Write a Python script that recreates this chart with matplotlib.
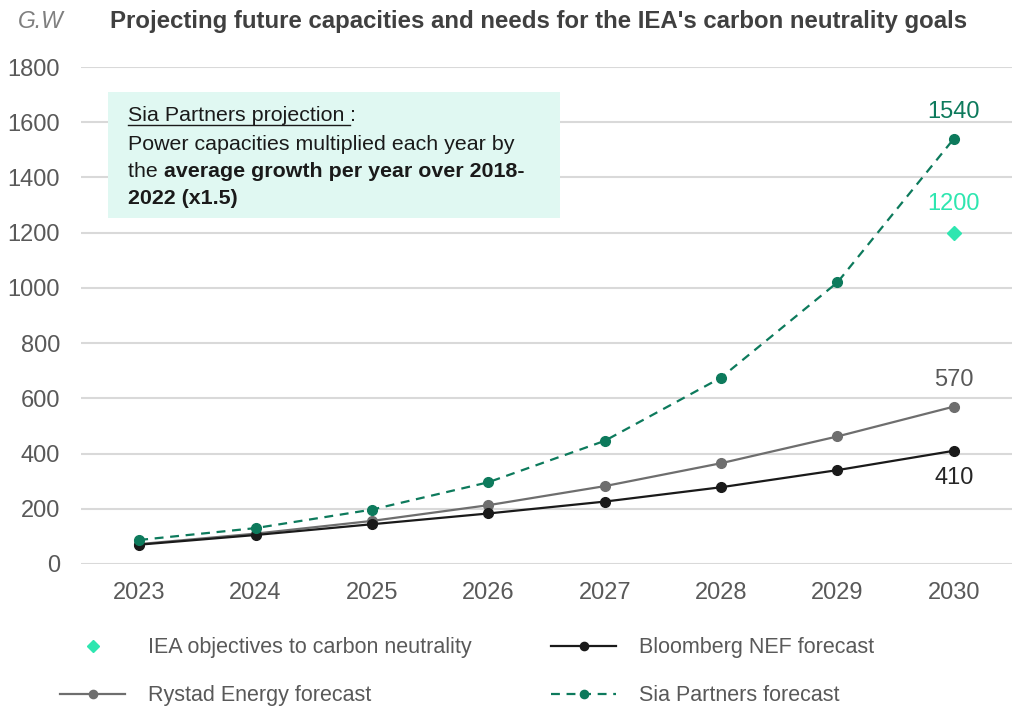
import matplotlib
matplotlib.use("Agg")
import matplotlib.pyplot as plt
from matplotlib.lines import Line2D
from matplotlib.patches import Rectangle

plt.rcParams['font.family'] = ['Liberation Sans', 'DejaVu Sans']

years = [2023, 2024, 2025, 2026, 2027, 2028, 2029, 2030]
sia = [87, 130, 197, 296, 446, 675, 1020, 1540]
rystad = [72, 110, 156, 213, 282, 365, 462, 570]
bloomberg = [70, 105, 144, 183, 226, 278, 340, 410]
iea_year = [2030]
iea = [1200]
yticks = [0, 200, 400, 600, 800, 1000, 1200, 1400, 1600, 1800]

c_sia = '#0D7A5C'
c_iea = '#2EE6B0'
c_ry = '#6E6E6E'
c_bl = '#1A1A1A'
c_txt = '#595959'

fig = plt.figure(figsize=(10.22, 7.08), dpi=100)
ax = fig.add_axes([81/1022, 1-564/708, 931/1022, (564-67)/708])
ax.set_xlim(2022.5, 2030.5)
ax.set_ylim(0, 1800)
ax.set_yticks(yticks)
ax.set_xticks(years)
ax.tick_params(length=0, labelsize=17, labelcolor=c_txt)
ax.tick_params(axis='x', pad=13)
ax.tick_params(axis='y', pad=15)
for s in ax.spines.values():
    s.set_visible(False)
ax.yaxis.grid(True, color='#D9D9D9', linewidth=1.5)
ax.set_axisbelow(True)

l_ry, = ax.plot(years, rystad, color=c_ry, lw=1.6, marker='o', ms=7, label='Rystad Energy forecast')
l_bl, = ax.plot(years, bloomberg, color=c_bl, lw=1.6, marker='o', ms=7, label='Bloomberg NEF forecast')
l_sia, = ax.plot(years, sia, color=c_sia, lw=1.6, ls=(0, (4, 3)), marker='o', ms=7, label='Sia Partners forecast')
l_iea, = ax.plot(iea_year, iea, ls='none', marker='D', ms=7, color=c_iea, label='IEA objectives to carbon neutrality')

ax.annotate(f"{sia[-1]}", (years[-1], sia[-1]), xytext=(0, 15), textcoords='offset points',
            ha='center', va='baseline', fontsize=17, color=c_sia)
ax.annotate(f"{iea[-1]}", (iea_year[-1], iea[-1]), xytext=(0, 16.5), textcoords='offset points',
            ha='center', va='baseline', fontsize=17, color=c_iea)
ax.annotate(f"{rystad[-1]}", (years[-1], rystad[-1]), xytext=(0, 14.5), textcoords='offset points',
            ha='center', va='baseline', fontsize=17, color=c_txt)
ax.annotate(f"{bloomberg[-1]}", (years[-1], bloomberg[-1]), xytext=(0, -24), textcoords='offset points',
            ha='center', va='baseline', fontsize=17, color='#262626')

# Title and unit
fig.text(18/1022, 1-28/708, "G.W", fontsize=16.5, style='italic', color='#7F7F7F', va='baseline')
fig.text(110/1022, 1-28/708, "Projecting future capacities and needs for the IEA's carbon neutrality goals",
         fontsize=17.3, fontweight='bold', color='#404040', va='baseline')

# Annotation box
fig.patches.append(Rectangle((108/1022, 1-218/708), (560-108)/1022, (218-92)/708,
                             transform=fig.transFigure, facecolor='#E0F8F2', edgecolor='none', zorder=1))
fs = 15.4
x0 = 128/1022
t1 = fig.text(x0, 1-121/708, "Sia Partners projection ", fontsize=fs, color='#1A1A1A', va='baseline', zorder=3)
t1b = fig.text(0, 0, ":", fontsize=fs, color='#1A1A1A', va='baseline', zorder=3)
fig.text(x0, 1-150/708, "Power capacities multiplied each year by", fontsize=fs, color='#1A1A1A', va='baseline', zorder=3)
t3 = fig.text(x0, 1-177/708, "the ", fontsize=fs, color='#1A1A1A', va='baseline', zorder=3)
t3b = fig.text(0, 0, "average growth per year over 2018-", fontsize=fs, fontweight='bold', color='#1A1A1A', va='baseline', zorder=3)
fig.text(x0, 1-204/708, "2022 (x1.5)", fontsize=fs, fontweight='bold', color='#1A1A1A', va='baseline', zorder=3)

fig.canvas.draw()
r = fig.canvas.get_renderer()
inv = fig.transFigure.inverted()
bb1f = inv.transform(t1.get_window_extent(r))
t1b.set_position((bb1f[1][0], 1-121/708))
bb3 = inv.transform(t3.get_window_extent(r))
t3b.set_position((bb3[1][0], 1-177/708))
fig.add_artist(Line2D([x0, bb1f[1][0]], [1-124.5/708, 1-124.5/708], transform=fig.transFigure,
                      color='#1A1A1A', lw=1, zorder=3))

# Legend
leg = fig.legend(handles=[l_iea, l_ry, l_bl, l_sia], ncol=2, loc='upper left',
                 bbox_to_anchor=(41/1022, 1-618/708), frameon=False, fontsize=15.5,
                 handlelength=3.0, handletextpad=1.07, columnspacing=3.7, labelspacing=1.24,
                 markerscale=0.85)
for t in leg.get_texts():
    t.set_color(c_txt)

fig.savefig("out.png", dpi=100)
